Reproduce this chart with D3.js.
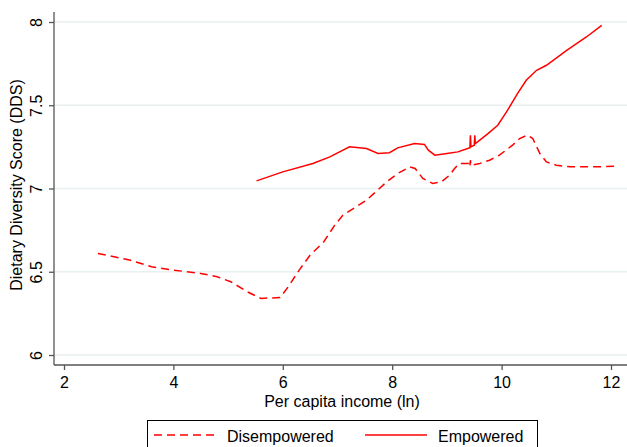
<!DOCTYPE html>
<html>
<head>
<meta charset="utf-8">
<script src="https://cdn.jsdelivr.net/npm/d3@7"></script>
<style>
  body { margin: 0; background: #fff; }
  svg { display: block; font-family: "Liberation Sans", Arial, sans-serif; }
</style>
</head>
<body>
<svg id="chart" width="627" height="447"></svg>
<script>
// per capita income (ln) vs DDS
const disempowered = [
  [2.62, 6.61], [3.2, 6.57], [3.6, 6.53], [4.0, 6.51], [4.5, 6.49], [4.8, 6.47],
  [5.05, 6.44], [5.35, 6.38], [5.6, 6.34], [5.95, 6.345], [6.1, 6.41], [6.3, 6.51],
  [6.5, 6.6], [6.75, 6.68], [6.95, 6.78], [7.1, 6.84], [7.53, 6.93], [7.9, 7.04],
  [8.1, 7.09], [8.32, 7.13], [8.42, 7.12], [8.56, 7.06], [8.74, 7.03], [8.9, 7.04],
  [9.05, 7.08], [9.14, 7.12], [9.23, 7.15], [9.32, 7.15], [9.4, 7.15], [9.42, 7.13],
  [9.43, 7.17], [9.44, 7.14], [9.6, 7.15], [9.78, 7.17], [9.96, 7.2], [10.2, 7.26],
  [10.33, 7.3], [10.47, 7.32], [10.57, 7.3], [10.7, 7.21], [10.82, 7.16], [11.0, 7.14],
  [11.25, 7.13], [11.7, 7.13], [12.14, 7.135]
];
const empowered = [
  [5.52, 7.046], [6.0, 7.1], [6.55, 7.15], [6.86, 7.19], [7.22, 7.25], [7.53, 7.24],
  [7.74, 7.21], [7.95, 7.215], [8.1, 7.244], [8.41, 7.27], [8.59, 7.265], [8.66, 7.23],
  [8.78, 7.2], [9.0, 7.21], [9.2, 7.22], [9.38, 7.24], [9.42, 7.245], [9.43, 7.32],
  [9.44, 7.25], [9.5, 7.26], [9.51, 7.32], [9.52, 7.27], [9.56, 7.28], [9.75, 7.33],
  [9.93, 7.38], [10.09, 7.46], [10.29, 7.57], [10.45, 7.65], [10.64, 7.71],
  [10.82, 7.74], [11.19, 7.83], [11.55, 7.91], [11.83, 7.98]
];
const xTicks = [2, 4, 6, 8, 10, 12];
const yTicks = [6, 6.5, 7, 7.5, 8];
const seriesNames = ["Disempowered", "Empowered"];

const svg = d3.select("#chart");
const plotLeft = 54, plotRight = 627, plotTop = 12, plotBottom = 365;
const fontSize = 16;

const x = d3.scaleLinear().domain([2, 12]).range([64, 611]);
const y = d3.scaleLinear().domain([6, 8]).range([355, 22]);

// grid
svg.append("g").selectAll("line").data(yTicks).join("line")
  .attr("x1", plotLeft).attr("x2", plotRight)
  .attr("y1", d => y(d)).attr("y2", d => y(d))
  .attr("stroke", "#e8f0f1").attr("stroke-width", 1.3);

// axes
const yAxis = svg.append("g").attr("transform", `translate(${plotLeft},0)`)
  .call(d3.axisLeft(y).tickValues(yTicks).tickSize(5).tickFormat(d3.format("~g")));
yAxis.select(".domain").attr("d", `M0,${plotTop}V${plotBottom}`);
yAxis.selectAll(".tick text")
  .attr("x", 0).attr("y", 0).attr("dy", 0)
  .attr("text-anchor", "middle")
  .attr("transform", "translate(-12,0) rotate(-90)");

const xAxis = svg.append("g").attr("transform", `translate(0,${plotBottom})`)
  .call(d3.axisBottom(x).tickValues(xTicks).tickSize(5).tickFormat(d3.format("d")));
xAxis.select(".domain").attr("d", `M${plotLeft},0H${plotRight}`);

svg.selectAll(".domain, .tick line").attr("stroke", "#555").attr("stroke-width", 1.3);
svg.selectAll(".tick text").attr("fill", "#000").attr("font-size", fontSize)
  .attr("font-family", "Liberation Sans, Arial, sans-serif");
xAxis.selectAll(".tick text").attr("dy", "0.95em");

// axis titles
svg.append("text").attr("x", 342).attr("y", 407).attr("text-anchor", "middle")
  .attr("font-size", fontSize).text("Per capita income (ln)");
svg.append("text").attr("transform", "translate(22,185) rotate(-90)")
  .attr("text-anchor", "middle").attr("font-size", fontSize).text("Dietary Diversity Score (DDS)");

// lines
const line = d3.line().x(d => x(d[0])).y(d => y(d[1]));
svg.append("path").datum(disempowered).attr("d", line)
  .attr("fill", "none").attr("stroke", "#ff0000").attr("stroke-width", 1.5)
  .attr("stroke-dasharray", "8,5");
svg.append("path").datum(empowered).attr("d", line)
  .attr("fill", "none").attr("stroke", "#ff0000").attr("stroke-width", 1.5);

// legend
const lg = svg.append("g");
lg.append("rect").attr("x", 147.5).attr("y", 420.5).attr("width", 390).attr("height", 40)
  .attr("fill", "#fff").attr("stroke", "#000").attr("stroke-width", 1);
lg.append("line").attr("x1", 154).attr("x2", 216).attr("y1", 435).attr("y2", 435)
  .attr("stroke", "#ff0000").attr("stroke-width", 1.5).attr("stroke-dasharray", "8,5");
lg.append("line").attr("x1", 365).attr("x2", 427).attr("y1", 435).attr("y2", 435)
  .attr("stroke", "#ff0000").attr("stroke-width", 1.5);
lg.append("text").attr("x", 227).attr("y", 442).attr("font-size", fontSize).text(seriesNames[0]);
lg.append("text").attr("x", 438).attr("y", 442).attr("font-size", fontSize).text(seriesNames[1]);
</script>
</body>
</html>
